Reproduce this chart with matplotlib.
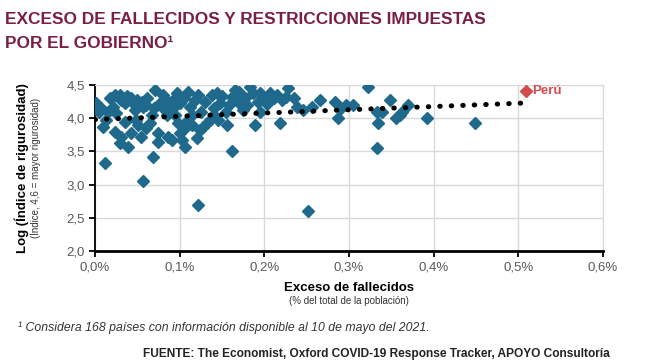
import numpy as np
import matplotlib.pyplot as plt
from matplotlib.ticker import FuncFormatter

plt.rcParams['font.family'] = ['Liberation Sans', 'DejaVu Sans']

# Excess deaths (% of population) vs log stringency index, one pair per country
exceso = [
    0.001, 0.007, 0.009, 0.024, 0.030, 0.031, 0.035, 0.021, 0.025, 0.024,
    0.031, 0.029, 0.039, 0.045, 0.047, 0.048, 0.051, 0.043, 0.054, 0.057,
    0.060, 0.071, 0.065, 0.074, 0.074, 0.086, 0.077, 0.083, 0.090, 0.084,
    0.092, 0.068, 0.012, 0.057, 0.122, 0.251,
    0.097, 0.093, 0.100, 0.098, 0.106, 0.091, 0.103, 0.106, 0.112, 0.118,
    0.122, 0.120, 0.124, 0.128, 0.132, 0.136, 0.138, 0.144, 0.148, 0.156,
    0.162, 0.162, 0.165, 0.169, 0.177, 0.183, 0.187, 0.189,
    0.195, 0.200, 0.207, 0.212, 0.221, 0.228, 0.218, 0.238, 0.246, 0.256,
    0.266, 0.283, 0.287, 0.291,
    0.297, 0.305, 0.322, 0.333, 0.334, 0.339, 0.333, 0.348, 0.356, 0.360,
    0.363, 0.370, 0.392, 0.449,
    0.015, 0.018, 0.038, 0.042, 0.050, 0.055, 0.062, 0.067, 0.070, 0.080,
    0.085, 0.095, 0.105, 0.110, 0.115, 0.125, 0.130, 0.140, 0.150, 0.155,
    0.158, 0.170, 0.175, 0.180, 0.192, 0.203, 0.215, 0.225, 0.235, 0.195,
    0.140, 0.108, 0.115, 0.145, 0.005, 0.060, 0.035, 0.100, 0.013,
]
rigurosidad = [
    4.23, 4.15, 3.87, 4.35, 4.35, 4.27, 4.23, 4.17, 4.08, 3.79,
    3.72, 3.63, 3.57, 4.23, 4.12, 3.97, 3.90, 3.78, 3.72, 4.17,
    4.20, 4.42, 3.93, 3.78, 3.64, 3.72, 4.23, 4.12, 4.17, 4.27,
    4.27, 3.42, 3.33, 3.05, 2.69, 2.60,
    4.38, 4.17, 4.23, 3.93, 3.85, 3.67, 3.67, 3.57, 4.17, 4.27,
    4.35, 3.70, 3.82, 3.87, 3.93, 3.97, 4.35, 4.38, 4.23, 3.90,
    3.51, 4.32, 4.42, 4.25, 4.30, 4.47, 4.38, 3.90,
    4.38, 4.30, 4.38, 4.30, 4.27, 4.45, 3.93, 4.17, 4.12, 4.17,
    4.27, 4.25, 4.00, 4.15,
    4.20, 4.20, 4.47, 4.09, 3.93, 4.09, 3.55, 4.27, 4.00, 4.05,
    4.09, 4.20, 4.00, 3.93,
    4.10, 4.30, 4.33, 4.30, 4.28, 4.25, 4.30, 4.05, 4.15, 4.35,
    4.05, 4.05, 4.30, 4.40, 4.05, 4.10, 4.25, 4.15, 4.33, 4.10,
    4.20, 4.40, 4.12, 4.20, 4.25, 4.22, 4.35, 4.32, 4.30, 4.10,
    4.05, 3.95, 3.90, 3.98, 4.10, 3.85, 3.95, 3.78, 3.97,
]
peru_x, peru_y = 0.509, 4.41

# dotted linear trend
trend_x = [0.0, 0.51]
trend_y = [3.98, 4.23]

xticks = [0.0, 0.1, 0.2, 0.3, 0.4, 0.5, 0.6]
yticks = [2.0, 2.5, 3.0, 3.5, 4.0, 4.5]

blue = '#1F6A8C'
red = '#D24B4B'
maroon = '#7A1E45'
grey = '#595959'

fig = plt.figure(figsize=(6.47, 3.62), dpi=100)
ax = fig.add_axes([95 / 647, 1 - 251 / 362, 508 / 647, 166 / 362])

ax.plot(exceso, rigurosidad, linestyle='none', marker='D', markersize=6.5,
        color=blue, zorder=3)
ax.plot([peru_x], [peru_y], linestyle='none', marker='D', markersize=6.5,
        color=red, zorder=4)
ax.text(peru_x + 0.007, peru_y, 'Perú', color=red, fontsize=9.5,
        fontweight='bold', va='center', ha='left')
ax.plot(trend_x, trend_y, color='black', linewidth=3.6,
        linestyle=(0, (0.1, 2.2)), dash_capstyle='round', zorder=5)

ax.set_xlim(0, 0.6)
ax.set_ylim(2.0, 4.5)
ax.set_xticks(xticks)
ax.set_yticks(yticks)
ax.xaxis.set_major_formatter(FuncFormatter(lambda v, p: f'{v:.1f}%'.replace('.', ',')))
ax.yaxis.set_major_formatter(FuncFormatter(lambda v, p: f'{v:.1f}'.replace('.', ',')))
ax.grid(True, color='#D9D9D9', linewidth=1)
ax.set_axisbelow(True)
for s in ['top', 'right']:
    ax.spines[s].set_color('#D9D9D9')
ax.spines['left'].set_linewidth(1.3)
ax.spines['bottom'].set_linewidth(2)
ax.tick_params(axis='both', direction='out', length=4, width=1.3,
               labelsize=9.5, labelcolor=grey, color='black')

# axis titles
fig.text(0.5 * (95 + 603) / 647, 1 - 288 / 362, 'Exceso de fallecidos',
         ha='center', va='center', fontsize=9.5, fontweight='bold')
fig.text(0.5 * (95 + 603) / 647, 1 - 301 / 362, '(% del total de la población)',
         ha='center', va='center', fontsize=7, color='#333333')
fig.text(22 / 647, 1 - 168 / 362, 'Log (Índice de rigurosidad)', rotation=90,
         ha='center', va='center', fontsize=9.5, fontweight='bold')
fig.text(35 / 647, 1 - 168 / 362, '(Índice, 4,6 = mayor rigurosidad)', rotation=90,
         ha='center', va='center', fontsize=7, color='#333333')

# title
fig.text(5 / 647, 1 - 20 / 362, 'EXCESO DE FALLECIDOS Y RESTRICCIONES IMPUESTAS',
         ha='left', va='center', fontsize=12.4, fontweight='bold', color=maroon)
fig.text(5 / 647, 1 - 44 / 362, 'POR EL GOBIERNO¹',
         ha='left', va='center', fontsize=12.4, fontweight='bold', color=maroon)

# notes
fig.text(18 / 647, 1 - 328 / 362,
         '¹ Considera 168 países con información disponible al 10 de mayo del 2021.',
         ha='left', va='center', fontsize=8.8, style='italic', color='#333333')
fig.text(610 / 647, 1 - 354 / 362,
         'FUENTE: The Economist, Oxford COVID-19 Response Tracker, APOYO Consultoría',
         ha='right', va='center', fontsize=8.6, fontweight='bold', color='#222222')

fig.savefig('out.png', dpi=100)
